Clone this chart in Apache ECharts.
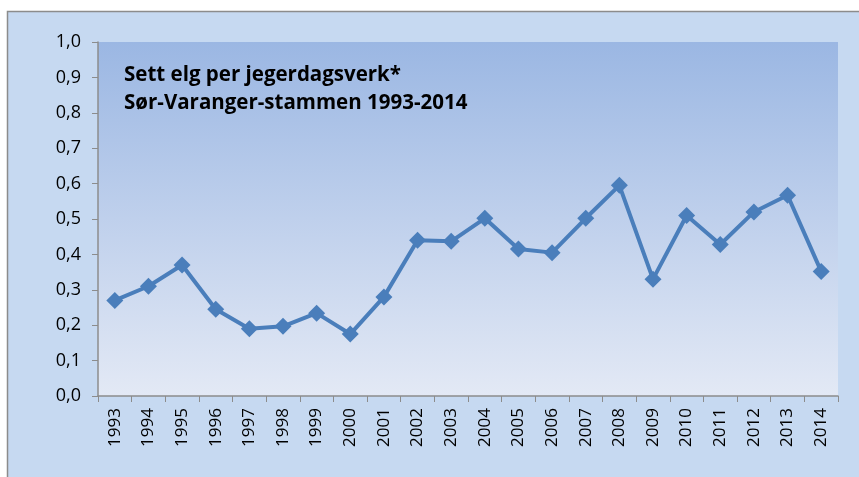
<!DOCTYPE html>
<html>
<head>
<meta charset="utf-8">
<script src="https://cdn.jsdelivr.net/npm/echarts@6/dist/echarts.min.js"></script>
<style>
  html, body { margin: 0; padding: 0; background: #fff; }
  #chart { width: 859px; height: 477px; }
</style>
</head>
<body>
<div id="chart"></div>
<script>
// data
const years = ['1993', '1994', '1995', '1996', '1997', '1998', '1999', '2000', '2001', '2002', '2003',
    '2004', '2005', '2006', '2007', '2008', '2009', '2010', '2011', '2012', '2013', '2014'];
const seenPerDay = [0.27, 0.31, 0.37, 0.245, 0.19, 0.197, 0.234, 0.175, 0.28, 0.44, 0.437,
    0.502, 0.415, 0.405, 0.502, 0.595, 0.33, 0.51, 0.428, 0.52, 0.567, 0.352];
const titleLines = ['Sett elg per jegerdagsverk*', 'Sør-Varanger-stammen 1993-2014'];

const chart = echarts.init(document.getElementById('chart'));
const option = {
    backgroundColor: '#ffffff',
    animation: false,
    textStyle: { fontFamily: 'Open Sans' },
    graphic: [
        {
            type: 'rect',
            z: -10,
            shape: { x: 7.5, y: 11.5, width: 860, height: 470 },
            style: { fill: '#c6d9f1', stroke: '#8c8c8c', lineWidth: 1.5 }
        },
        {
            type: 'text',
            left: 124,
            top: 61,
            z: 10,
            style: {
                text: titleLines.join('\n'),
                font: 'bold 20.5px "Open Sans"',
                lineHeight: 28,
                fill: '#000'
            }
        }
    ],
    grid: {
        left: 98,
        top: 42,
        right: 21,
        bottom: 81,
        show: true,
        borderWidth: 0,
        backgroundColor: new echarts.graphic.LinearGradient(0, 0, 0, 1, [
            { offset: 0, color: '#9bb7e3' },
            { offset: 1, color: '#e3e9f5' }
        ])
    },
    xAxis: {
        type: 'category',
        data: years,
        boundaryGap: true,
        axisLine: { lineStyle: { color: '#8c8c8c', width: 1.5 } },
        axisTick: { show: true, alignWithLabel: false, length: 6, lineStyle: { color: '#8c8c8c' } },
        axisLabel: { rotate: 90, color: '#000', fontSize: 17, margin: 12, interval: 0 }
    },
    yAxis: {
        type: 'value',
        min: 0,
        max: 1,
        interval: 0.1,
        splitLine: { show: false },
        axisLine: { show: true, lineStyle: { color: '#8c8c8c', width: 1.5 } },
        axisTick: { show: true, length: 6, lineStyle: { color: '#8c8c8c' } },
        axisLabel: {
            color: '#000',
            fontSize: 18,
            margin: 17,
            formatter: v => v.toFixed(1).replace('.', ',')
        }
    },
    series: [
        {
            type: 'line',
            data: seenPerDay,
            symbol: 'diamond',
            symbolSize: 17,
            lineStyle: { color: '#4a7ebb', width: 4 },
            itemStyle: { color: '#4a7ebb' }
        }
    ]
};
chart.setOption(option);
</script>
</body>
</html>
